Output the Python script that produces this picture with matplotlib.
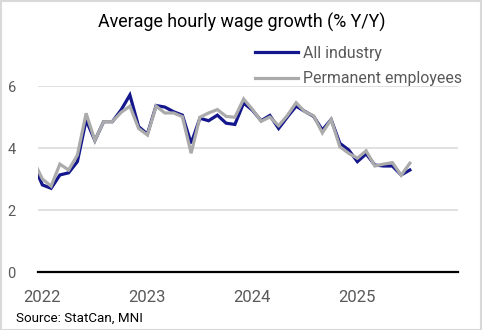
import matplotlib
matplotlib.use("Agg")
import matplotlib.pyplot as plt
from matplotlib.lines import Line2D
from matplotlib.patches import Rectangle

plt.rcParams["font.family"] = ["Roboto", "DejaVu Sans"]

# Monthly Y/Y wage growth, Dec 2021 .. Jul 2025 (month 0 = Jan 2022)
months = list(range(-1, 43))
all_industry = [
    3.45, 2.81, 2.70, 3.13, 3.20, 3.56, 4.90, 4.24, 4.85, 4.85, 5.23, 5.71,
    4.69, 4.45, 5.37, 5.32, 5.17, 5.06, 4.15, 4.96, 4.88, 5.06, 4.80, 4.76,
    5.45, 5.22, 4.88, 5.05, 4.63, 5.00, 5.35, 5.18, 5.02, 4.58, 4.92, 4.15,
    3.94, 3.56, 3.81, 3.45, 3.42, 3.42, 3.13, 3.29,
]
permanent = [
    3.58, 3.00, 2.77, 3.48, 3.29, 3.77, 5.12, 4.24, 4.85, 4.85, 5.15, 5.35,
    4.63, 4.42, 5.35, 5.13, 5.13, 5.01, 3.83, 4.99, 5.13, 5.24, 5.02, 4.99,
    5.58, 5.25, 4.86, 5.00, 4.72, 5.05, 5.46, 5.17, 5.04, 4.49, 4.92, 4.04,
    3.83, 3.67, 3.91, 3.42, 3.48, 3.53, 3.12, 3.51,
]
year_ticks = [0, 12, 24, 36]
year_labels = ["2022", "2023", "2024", "2025"]
y_ticks = [0, 2, 4, 6]

BLUE = "#13168C"
GREY = "#ABABAB"
TXT = "#595959"

W, H = 482, 330
fig = plt.figure(figsize=(W / 100, H / 100), dpi=100)
ax = fig.add_axes([38 / W, 1 - 272 / H, 420 / W, 186 / H])

ax.plot(months, all_industry, color=BLUE, lw=2.3, solid_joinstyle="miter")
ax.plot(months, permanent, color=GREY, lw=2.3, solid_joinstyle="miter")

ax.set_xlim(-0.5, 47.5)
ax.set_ylim(0, 6)
ax.set_yticks(y_ticks)
ax.set_xticks(year_ticks)
ax.set_xticklabels(year_labels)
ax.grid(axis="y", color="#D9D9D9", lw=1.1)
ax.set_axisbelow(True)
for s in ["top", "right", "left"]:
    ax.spines[s].set_visible(False)
ax.spines["bottom"].set_color("black")
ax.spines["bottom"].set_linewidth(1.6)
ax.spines["bottom"].set_zorder(3)
ax.tick_params(axis="both", length=0, colors=TXT)
ax.tick_params(axis="y", labelsize=10.5, pad=16)
ax.tick_params(axis="x", labelsize=12, pad=13)

fig.text(242 / W, 1 - 22 / H, "Average hourly wage growth (% Y/Y)",
         ha="center", va="center", fontsize=12.9, color="black")

handles = [Line2D([], [], color=BLUE, lw=2.3), Line2D([], [], color=GREY, lw=2.3)]
fig.legend(handles, ["All industry", "Permanent employees"],
           loc="upper left", bbox_to_anchor=(247 / W, 1 - 38 / H),
           frameon=False, fontsize=11.4, labelcolor=TXT, borderpad=0,
           handlelength=2.75, handletextpad=0.3, labelspacing=0.65)

fig.text(16 / W, 1 - 318 / H, "Source: StatCan, MNI", ha="left",
         va="center", fontsize=9.6, color="black")

fig.patches.append(Rectangle((0.5 / W, 0.5 / H), 1 - 1.5 / W, 1 - 1.5 / H,
                             transform=fig.transFigure, fill=False,
                             edgecolor="#D9D9D9", lw=1.5))

fig.savefig("out.png", dpi=100)
